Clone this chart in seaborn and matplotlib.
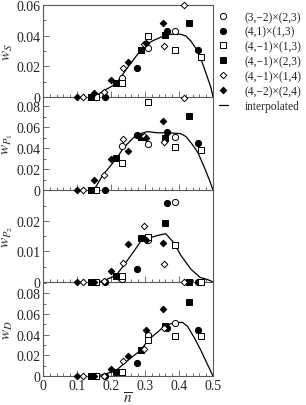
import numpy as np
import pandas as pd
import matplotlib
matplotlib.use("Agg")
import matplotlib.pyplot as plt
import seaborn as sns
from matplotlib.ticker import MultipleLocator
from matplotlib.lines import Line2D

# ---------------- data ----------------
series_labels = ["(3,−2)×(2,3)", "(4,1)×(1,3)", "(4,−1)×(1,3)",
                 "(4,−1)×(2,3)", "(4,−1)×(1,4)", "(4,−2)×(2,4)"]

n_a = [0.156, 0.233, 0.310, 0.387]                 # (3,-2)x(2,3)
n_b = [0.181, 0.275, 0.366, 0.457]                 # (4,1)x(1,3)
n_c = [0.157, 0.233, 0.310, 0.387, 0.464]          # (4,-1)x(1,3)
n_d = [0.141, 0.215, 0.287, 0.359, 0.430]          # (4,-1)x(2,3)
n_e = [0.119, 0.178, 0.236, 0.297, 0.356, 0.415]   # (4,-1)x(1,4)
n_f = [0.101, 0.151, 0.201, 0.251, 0.302, 0.352]   # (4,-2)x(2,4)

# w_S
wS_a = [0, 0.0122, 0.0322, 0.0430]
wS_b = [0, 0.0191, 0.0430, 0.0309]
wS_c = [0, 0.0091, 0.0400, 0.0309, 0.0263]
wS_d = [0, 0.0089, 0.0309, 0.0402, 0.0483]
wS_e = [0, 0.0035, 0.0187, 0.0348, 0.0333, 0.0598]
wS_f = [0, 0.0025, 0.0113, 0.0228, 0.0354, 0.0483]

# w_P1
wP1_a = [0, 0.0422, 0.0441, 0.0508]
wP1_b = [0, 0.0527, 0.0556, 0.0452]
wP1_c = [0, 0.0254, 0.0836, 0.0406, 0.0384]
wP1_d = [0, 0.0302, 0.0508, 0.0498, 0.0708]
wP1_e = [0, 0.0143, 0.0489, 0.0511, 0.0460, 0.0873]
wP1_f = [0, 0.0100, 0.0292, 0.0368, 0.0500, 0.0657]

# w_P2
wP2_a = [0, 0.0010, 0.0136, 0.0263]
wP2_b = [0, 0.0042, 0.0258, 0]
wP2_c = [0, 0.0020, 0.0147, 0.0121, 0]
wP2_d = [0, 0.0018, 0.0143, 0.0192, 0]
wP2_e = [0, 0.0003, 0.0062, 0.0184, 0.0060, 0]
wP2_f = [0, 0, 0.0035, 0.0125, 0.0136, 0.0127]

# w_D
wD_a = [0, 0.0040, 0.0395, 0.0510]
wD_b = [0, 0.0126, 0.0460, 0.0447]
wD_c = [0, 0.0035, 0.0350, 0.0383, 0.0383]
wD_d = [0, 0.0042, 0.0251, 0.0486, 0.0711]
wD_e = [0, 0, 0.0141, 0.0260, 0.0465, np.nan]
wD_f = [0, 0, 0.0068, 0.0190, 0.0447, 0.0645]

# interpolated curves
nS_i = [0.150, 0.178, 0.215, 0.252, 0.287, 0.302, 0.326, 0.359, 0.376, 0.405, 0.420, 0.435, 0.455, 0.474, 0.494, 0.500]
wS_i = [0, 0.0039, 0.0087, 0.0202, 0.0304, 0.0343, 0.0370, 0.0402, 0.0409, 0.0409, 0.0398, 0.0365, 0.0300, 0.0190, 0.0060, 0]
nP1_i = [0.150, 0.176, 0.215, 0.238, 0.275, 0.307, 0.336, 0.366, 0.405, 0.420, 0.440, 0.455, 0.474, 0.490, 0.500]
wP1_i = [0, 0.0143, 0.0295, 0.0406, 0.0527, 0.0556, 0.0545, 0.0545, 0.0537, 0.0510, 0.0430, 0.0360, 0.0220, 0.0090, 0]
nP2_i = [0.154, 0.178, 0.215, 0.238, 0.267, 0.287, 0.310, 0.336, 0.361, 0.386, 0.405, 0.435, 0.462, 0.484, 0.500]
wP2_i = [0, 0.0004, 0.0022, 0.0055, 0.0100, 0.0132, 0.0143, 0.0152, 0.0158, 0.0127, 0.0088, 0.0042, 0.0015, 0.0008, 0]
nD_i = [0.154, 0.178, 0.215, 0.252, 0.287, 0.312, 0.336, 0.359, 0.386, 0.410, 0.425, 0.445, 0.464, 0.484, 0.500]
wD_i = [0, 0.0013, 0.0054, 0.0157, 0.0248, 0.0357, 0.0421, 0.0486, 0.0515, 0.0518, 0.0480, 0.0370, 0.0250, 0.0110, 0]

ylabels = [r"$w_S$", r"$w_{P_1}$", r"$w_{P_2}$", r"$w_D$"]
ytick_vals = [[0, 0.02, 0.04, 0.06], [0, 0.02, 0.04, 0.06, 0.08],
              [0, 0.01, 0.02], [0, 0.02, 0.04, 0.06, 0.08]]
ytick_labels = [["0", "0.02", "0.04", "0.06"], ["0", "0.02", "0.04", "0.06", "0.08"],
                ["0", "0.01", "0.02"], ["0", "0.02", "0.04", "0.06", "0.08"]]
xtick_vals = [0, 0.1, 0.2, 0.3, 0.4, 0.5]
xtick_labels = ["0", "0.1", "0.2", "0.3", "0.4", "0.5"]

# ---------------- style ----------------
sns.set_style("ticks")
plt.rcParams["font.family"] = ["Liberation Serif", "DejaVu Serif"]
plt.rcParams["mathtext.fontset"] = "stix"

panels = [
    (wS_a, wS_b, wS_c, wS_d, wS_e, wS_f, nS_i, wS_i),
    (wP1_a, wP1_b, wP1_c, wP1_d, wP1_e, wP1_f, nP1_i, wP1_i),
    (wP2_a, wP2_b, wP2_c, wP2_d, wP2_e, wP2_f, nP2_i, wP2_i),
    (wD_a, wD_b, wD_c, wD_d, wD_e, wD_f, nD_i, wD_i),
]
n_list = [n_a, n_b, n_c, n_d, n_e, n_f]
styles = [  # marker, face, size
    ("o", "white", 20), ("o", "black", 20),
    ("s", "white", 15), ("s", "black", 15),
    ("D", "white", 11), ("D", "black", 11),
]
ylims = [0.060, 0.0886, 0.0301, 0.0908]
minor_y = [0.01, 0.01, 0.005, 0.01]
tops_px = [6, 98, 191, 283]
bots_px = [98, 191, 283, 377]
W_PX, H_PX = 306, 406
spine_col = "0.35"

fig = plt.figure(figsize=(W_PX / 100, H_PX / 100), dpi=100)
axes = []
for i, pan in enumerate(panels):
    b = 1 - bots_px[i] / H_PX
    h = (bots_px[i] - tops_px[i]) / H_PX
    ax = fig.add_axes([43 / W_PX, b, 170 / W_PX, h])
    axes.append(ax)
    vals = pan[:6]
    for k in range(6):
        df = pd.DataFrame({"n": n_list[k], "w": vals[k]}).dropna()
        m, fc, s = styles[k]
        sns.scatterplot(data=df, x="n", y="w", marker=m, s=s, color=fc,
                        edgecolor="black", linewidth=0.7, ax=ax,
                        clip_on=False, zorder=5, label=series_labels[k])
    dfi = pd.DataFrame({"n": pan[6], "w": pan[7]})
    sns.lineplot(data=dfi, x="n", y="w", color="black", lw=0.9, ax=ax,
                 sort=False, estimator=None, label="interpolated", zorder=4)
    if ax.get_legend() is not None:
        ax.get_legend().remove()
    ax.set_xlim(0, 0.5)
    ax.set_ylim(0, ylims[i])
    ax.set_xticks(xtick_vals)
    ax.xaxis.set_minor_locator(MultipleLocator(0.02))
    ax.set_yticks(ytick_vals[i])
    ax.set_yticklabels(ytick_labels[i])
    ax.yaxis.set_minor_locator(MultipleLocator(minor_y[i]))
    ax.tick_params(which="both", direction="in", color=spine_col, width=0.6,
                   labelsize=10.0, top=False, right=False)
    ax.tick_params(which="major", length=4.0, pad=2)
    ax.tick_params(which="minor", length=2.2)
    if i < 3:
        ax.set_xticklabels([])
        ax.set_xlabel("")
    else:
        ax.set_xticklabels(xtick_labels)
        ax.set_xlabel(r"$\overline{n}$", fontsize=11, labelpad=-1)
    ax.set_ylabel(ylabels[i], fontsize=11, labelpad=1)
    for sp in ax.spines.values():
        sp.set_color(spine_col)
        sp.set_linewidth(0.8)
    if i > 0:
        ax.spines["top"].set_visible(False)
    ax.set_facecolor("none")

# legend
handles = []
for k in range(6):
    m, fc, s = styles[k]
    handles.append(Line2D([], [], ls="none", marker=m, markersize=np.sqrt(s),
                          markerfacecolor=fc, markeredgecolor="black",
                          markeredgewidth=0.7))
handles.append(Line2D([], [], color="black", lw=0.9))
fig.legend(handles, series_labels + ["interpolated"], loc="upper left",
           bbox_to_anchor=(219 / W_PX, 1 - 12 / H_PX), frameon=False,
           fontsize=8.3, handlelength=0.75, handletextpad=1.5,
           labelspacing=0.24, borderpad=0, borderaxespad=0)

fig.savefig("out.png", dpi=100)
